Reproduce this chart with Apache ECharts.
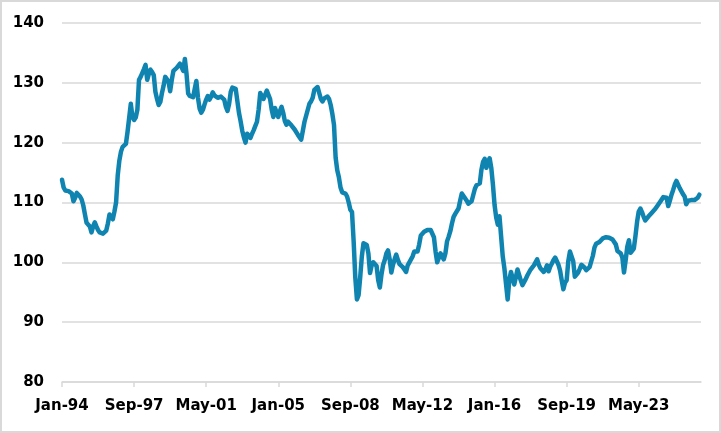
<!DOCTYPE html>
<html><head><meta charset="utf-8">
<script src="https://cdn.jsdelivr.net/npm/echarts@6/dist/echarts.min.js"></script>
<style>
html,body{margin:0;padding:0;background:#fff}
#c{position:absolute;left:0;top:0;width:721px;height:433px}
#b{position:absolute;left:0;top:0;width:721px;height:433px;box-sizing:border-box;border:2px solid #D9D9D9;pointer-events:none}
</style></head>
<body>
<div id="c"></div><div id="b"></div>
<script>
// Monthly index values, Jan-1994 onwards (one row per year)
const y1994 = [113.8,112.5,112,111.8,111.9,112,111.5,110.2,110.8,111.6,111.3,111];
const y1995 = [110.5,109.5,108,106.6,106.3,106,105,106,106.7,106,105.4,105];
const y1996 = [104.7,104.8,105,105.3,106.5,108,107.8,107.2,108.5,110,114.5,117];
const y1997 = [118.5,119.3,119.5,119.8,121.8,122,126.5,124.3,123.8,124.2,125.5,130.5];
const y1998 = [131,131.2,132.3,133,130.5,131.5,132.2,131.8,131.3,128.5,127.3,126.3];
const y1999 = [126.8,128.3,129.5,131,131.3,130.2,128.6,130.5,132,132.3,132.5,132.8];
const y2000 = [133.2,133.3,132,134,131.5,128.2,127.8,127.6,127.6,129,130.3,127.5];
const y2001 = [125.7,125,125.5,126.4,127.2,127.8,127.2,127.7,128.4,127.9,127.6,127.5];
const y2002 = [127.6,127.7,127.5,127.2,126,125.3,126.5,128.5,129.2,129.5,129,127];
const y2003 = [125,123.6,122,120.9,120,121.5,121.8,120.8,121.5,122.1,122.8,123.5];
const y2004 = [125.5,128.3,128,127.3,127.3,128.7,128,127.3,125.5,124.3,125.8,125.5];
const y2005 = [124.3,125.3,126,125,123.6,123,123.5,123.7,122.9,122.6,122.2,121.9];
const y2006 = [121.3,121,120.5,120.3,123.5,124.5,124.7,126.5,126.9,127.5,128.8,129];
const y2007 = [129.3,128.3,127.3,126.9,127.4,127.7,127.7,127.3,126.3,124.8,123,117.5];
const y2008 = [115.4,114.2,112.5,111.7,111.5,111.5,111,110,108.8,108.4,103.5,97.5];
const y2009 = [93.8,94.5,97.5,101,103.2,103,102.9,101.5,98.2,99.5,100,100];
const y2010 = [99.4,97,95.8,98,99.6,100.4,101.5,102,100.5,98.3,99.6,100.5];
const y2011 = [101.3,100.4,99.7,99.4,99.2,98.8,98.4,99.5,99.7,100.5,101,101.8];
const y2012 = [102,101.8,103,104.5,104.8,105.1,105.3,105.4,105.4,105.4,105.3,104.2];
const y2013 = [101.8,100,100.2,101.5,101.2,100.5,101.5,103.5,104.3,105.2,106.5,107.6];
const y2014 = [108.1,108.3,109,110.3,111.5,111.2,110.7,110.3,109.8,109.8,110.2,110.5];
const y2015 = [112.3,112.9,112.8,113.2,115.5,116.8,117.3,115.8,116.8,117.4,115.8,113];
const y2016 = [109.6,107.5,106.3,107.7,107.7,101,99,98.7,93.8,97,98.4,97.4];
const y2017 = [96.3,97.5,98.8,98.5,97,96.2,96.3,97.2,97.8,98.3,98.8,99.1];
const y2018 = [99.5,99.8,100.5,99.6,99,98.7,98.4,98.8,99.5,98.5,99.3,99.8];
const y2019 = [100.4,100.8,100.6,99.6,98.6,97,95.5,96.6,97,100.2,101.8,101.7];
const y2020 = [100.2,97.6,97.6,98.3,98.9,99.6,99.4,99.1,98.7,98.9,99.2,99.4];
const y2021 = [101.1,102.5,103.1,103.4,103.4,103.7,104,103.7,104.2,104,104.1,104.2];
const y2022 = [103.8,103.7,103,101.9,101.8,101.5,100.8,98.3,100.3,102.6,103.7,101.6];
const y2023 = [101.4,102.3,104.4,106.8,108.5,109,108.4,107.6,107,107,107.7,108];
const y2024 = [108.3,108.5,108.9,109.3,109.6,110.1,110.4,110.9,111.2,110.8,109.4,110.3];
const y2025 = [111.3,112.1,113,113.6,113.3,112.4,111.9,111.4,111,109.7,110.3,110.6];
const y2026 = [110.4,110.2,110.4,110.2,110.8,111.3];

const values = [].concat(y1994,y1995,y1996,y1997,y1998,y1999,y2000,y2001,y2002,y2003,
  y2004,y2005,y2006,y2007,y2008,y2009,y2010,y2011,y2012,y2013,y2014,y2015,y2016,y2017,
  y2018,y2019,y2020,y2021,y2022,y2023,y2024,y2025,y2026);

const monthNames = ['Jan','Feb','Mar','Apr','May','Jun','Jul','Aug','Sep','Oct','Nov','Dec'];
const startYear = 1994;
const labelStep = 44; // months between axis labels
const yTicks = [80,90,100,110,120,130,140];

const categories = [];
for (let i = 0; i <= values.length; i++) {
  const yr = startYear + Math.floor(i / 12);
  categories.push(monthNames[i % 12] + '-' + String(yr % 100).padStart(2, '0'));
}

const font = {fontFamily:'DejaVu Sans', fontWeight:'bold', fontSize:15, color:'#000'};
const chart = echarts.init(document.getElementById('c'), null, {renderer:'canvas'});
chart.setOption({
  animation:false,
  backgroundColor:'#fff',
  grid:{left:62, right:20, top:23, bottom:51, containLabel:false},
  xAxis:{
    type:'category', data:categories, boundaryGap:false,
    axisLine:{lineStyle:{color:'#D9D9D9', width:1.5}},
    axisTick:{show:true, interval:labelStep-1, length:5, lineStyle:{color:'#D9D9D9', width:1.5}},
    axisLabel:Object.assign({interval:labelStep-1, margin:17}, font),
    splitLine:{show:false}
  },
  yAxis:{
    type:'value', min:yTicks[0], max:yTicks[yTicks.length-1], interval:10,
    axisLine:{show:false}, axisTick:{show:false},
    axisLabel:Object.assign({margin:18}, font),
    splitLine:{lineStyle:{color:'#D9D9D9', width:1.5}}
  },
  series:[{
    type:'line', data:values, symbol:'none', smooth:false,
    lineStyle:{color:'#0F84B0', width:4.5, cap:'round', join:'round'}
  }]
});
</script>
</body></html>
